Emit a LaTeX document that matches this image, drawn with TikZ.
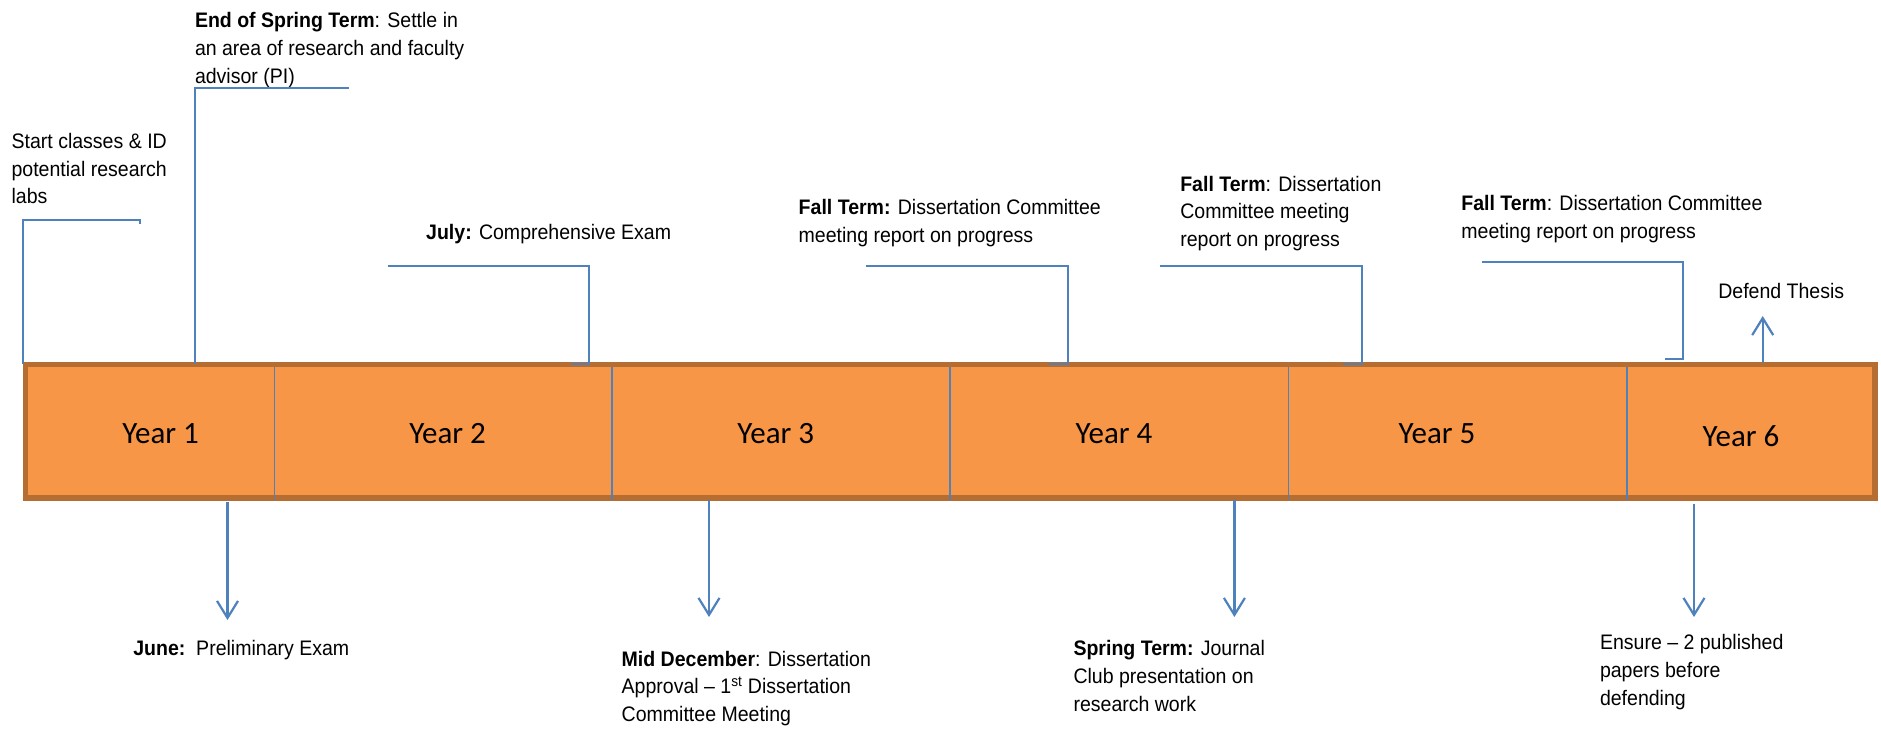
\documentclass[tikz,border=0pt]{standalone}
\usepackage{fontspec}
\setmainfont{Liberation Sans}
\newfontfamily\lab[FakeStretch=0.93]{Liberation Sans}
\newfontfamily\yr{Carlito}
\usetikzlibrary{arrows.meta}
\definecolor{conblue}{HTML}{4F81BD}
\definecolor{barfill}{HTML}{F79646}
\definecolor{baredge}{HTML}{B66D31}
\tikzset{
  note/.style={font=\lab\fontsize{21}{27.8}\selectfont, align=left, inner sep=0pt, outer sep=0pt, anchor=base west},
  yearlab/.style={font=\yr\fontsize{31}{36}\selectfont, inner sep=0pt, anchor=base},
  cell/.style={fill=barfill, draw=none, inner sep=0pt, outer sep=0pt, minimum height=133.5pt, anchor=north west},
  baredge/.style={draw=baredge, line width=5.5pt},
  divider/.style={draw=conblue, line width=1.5pt},
  callout/.style={draw=conblue, line width=2pt},
  timearrow/.style={draw=conblue, line width=2.2pt, -{Straight Barb[length=17pt, width=21pt]}},
}
\begin{document}
\begin{tikzpicture}[x=1pt, y=-1pt]
\useasboundingbox[fill=white] (0,0) rectangle (1881,730);

% timeline bar
\node[cell, minimum width=248.9pt] (y1) at (25.5,364.5) {};
\node[cell, minimum width=337.6pt] (y2) at (y1.north east) {};
\node[cell, minimum width=338pt]   (y3) at (y2.north east) {};
\node[cell, minimum width=338.5pt] (y4) at (y3.north east) {};
\node[cell, minimum width=338.5pt] (y5) at (y4.north east) {};
\node[cell, minimum width=248pt]   (y6) at (y5.north east) {};
\draw[baredge] (y1.north west) rectangle (y6.south east);
\foreach \c in {y1,y2,y3,y4,y5}
  \draw[divider] ([yshift=-2.5pt]\c.north east) -- ([yshift=-2pt]\c.south east);

\node[yearlab] (l1) at (160.6,443.3) {Year 1};
\node[yearlab] (l2) at (447.6,443.3) {Year 2};
\node[yearlab] (l3) at (775.8,443.3) {Year 3};
\node[yearlab] (l4) at (1114,443.3) {Year 4};
\node[yearlab] (l5) at (1437,443.3) {Year 5};
\node[yearlab] (l6) at (1741,446) {Year 6};

% texts above (anchor = baseline of last line)
\node[note] (t1) at (11.6,204) {Start classes \& ID\\potential research\\labs};
\node[note] (t2) at (195,83.3) {\textbf{End of Spring Term}: Settle in\\an area of research and faculty\\advisor (PI)};
\node[note] (t3) at (426.2,240) {\textbf{July:} Comprehensive Exam};
\node[note] (t4) at (798.7,242.7) {\textbf{Fall Term:} Dissertation Committee\\meeting report on progress};
\node[note] (t5) at (1180.3,246.7) {\textbf{Fall Term}: Dissertation\\Committee meeting\\report on progress};
\node[note] (t6) at (1461.4,238.3) {\textbf{Fall Term}: Dissertation Committee\\meeting report on progress};
\node[note] (t7) at (1718.3,298.3) {Defend Thesis};

% texts below
\node[note] (t8) at (133.3,655) {\textbf{June:}\ \ Preliminary Exam};
\node[note] (t9) at (621.7,721.7) {\textbf{Mid December}: Dissertation\\Approval – 1\textsuperscript{st} Dissertation\\Committee Meeting};
\node[note] (t10) at (1073.5,711) {\textbf{Spring Term:} Journal\\Club presentation on\\research work};
\node[note] (t11) at (1600,705) {Ensure – 2 published\\papers before\\defending};

% callout lines above the bar
\coordinate (a0) at (23,364);     \coordinate (a1) at (140,220);   \coordinate (a2) at (140,224);
\coordinate (b0) at (195.3,364);  \coordinate (b1) at (349,88.3);
\coordinate (c0) at (571.3,364);  \coordinate (c1) at (588.8,266);  \coordinate (c2) at (387.7,266);
\coordinate (d0) at (1048.7,364); \coordinate (d1) at (1068,266);   \coordinate (d2) at (866,266);
\coordinate (e0) at (1342.5,364); \coordinate (e1) at (1362,266);   \coordinate (e2) at (1160,266);
\coordinate (f0) at (1665,359.3); \coordinate (f1) at (1683.3,261.7); \coordinate (f2) at (1482,261.7);
\draw[callout] (a0) |- (a1) -- (a2);
\draw[callout] (b0) |- (b1);
\draw[callout] (c0) -| (c1) -- (c2);
\draw[callout] (d0) -| (d1) -- (d2);
\draw[callout] (e0) -| (e1) -- (e2);
\draw[callout] (f0) -| (f1) -- (f2);

% arrows
\coordinate (g0) at (1762.7,363);  \coordinate (g1) at (1762.7,316);
\coordinate (h0) at (227.5,502);   \coordinate (h1) at (227.5,620);
\coordinate (i0) at (709,500);     \coordinate (i1) at (709,617);
\coordinate (j0) at (1234.4,500);  \coordinate (j1) at (1234.4,617);
\coordinate (k0) at (1694,504);    \coordinate (k1) at (1694,617);
\draw[timearrow] (g0) -- (g1);
\draw[timearrow] (h0) -- (h1);
\draw[timearrow] (i0) -- (i1);
\draw[timearrow] (j0) -- (j1);
\draw[timearrow] (k0) -- (k1);
\end{tikzpicture}
\end{document}
